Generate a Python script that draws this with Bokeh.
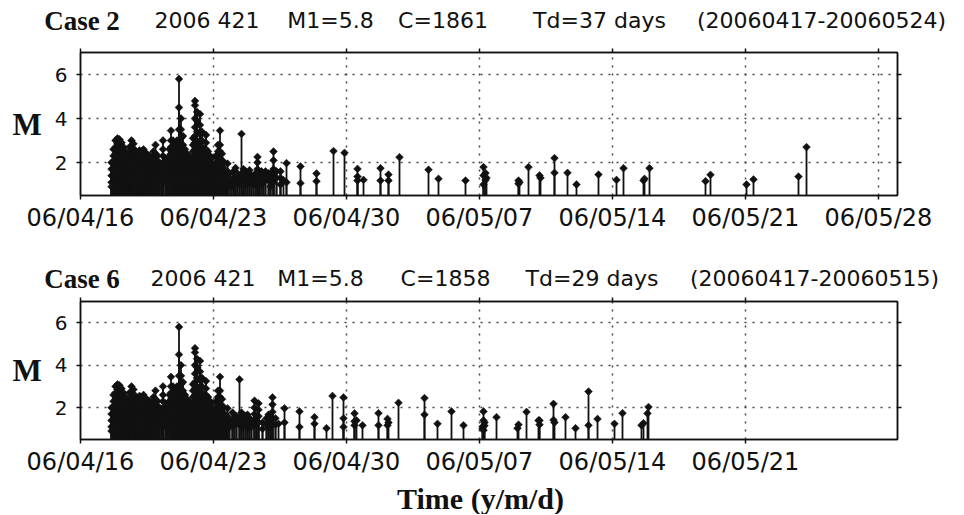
import math
import calendar
import datetime

from bokeh.plotting import figure
from bokeh.models import (Range1d, FixedTicker, DatetimeTickFormatter, DatetimeAxis,
                          LinearAxis, CustomJSTickFormatter, ColumnDataSource)
from bokeh.layouts import column
from bokeh.embed import file_html
from bokeh.resources import INLINE
from bokeh.core.properties import value

# ---------------- data ----------------
# event times: days after 2006-04-16 00:00 ; several events can share one time
SWARM_DAYS = [1.632, 1.737, 1.842, 1.947, 2.053, 2.158, 2.263, 2.368, 2.474, 2.579,
              2.684, 2.789, 2.895, 3.000, 3.105, 3.211, 3.316, 3.421, 3.526, 3.632,
              3.737, 3.842, 3.947, 4.053, 4.158, 4.263, 4.342, 4.474, 4.579, 4.684,
              4.763, 4.868, 4.974, 5.079, 5.184, 5.289, 5.395, 5.500, 5.605, 5.711,
              5.816, 5.921, 6.026, 6.132, 6.211, 6.289, 6.395, 6.500, 6.605, 6.711,
              6.816, 6.921, 7.026, 7.132, 7.237, 7.342, 7.447, 7.553]
SWARM_MAGS = [
    [2.0, 1.7, 1.4, 1.1, 0.9], [2.6, 2.3, 2.0, 1.7, 1.4, 1.1],
    [3.0, 2.7, 2.4, 2.1, 1.8, 1.5, 1.2, 0.9], [3.1, 2.85, 2.5, 2.2, 1.9, 1.6, 1.3, 1.0],
    [3.05, 2.75, 2.45, 2.15, 1.85, 1.55, 1.25], [2.9, 2.6, 2.3, 2.0, 1.7, 1.4, 1.1],
    [2.7, 2.4, 2.1, 1.8, 1.5, 1.2], [2.5, 2.2, 1.9, 1.6, 1.3, 1.0],
    [2.4, 2.1, 1.8, 1.5, 1.2], [2.7, 2.3, 2.0, 1.7, 1.4, 1.1],
    [3.0, 2.7, 2.4, 2.1, 1.8, 1.5, 1.2], [2.85, 2.55, 2.25, 1.95, 1.65, 1.35, 1.05],
    [2.55, 2.25, 1.95, 1.65, 1.35], [2.4, 2.1, 1.8, 1.5, 1.2, 0.9],
    [2.55, 2.25, 1.95, 1.65, 1.35, 1.05], [2.5, 2.2, 1.9, 1.6, 1.3],
    [2.6, 2.3, 2.0, 1.7, 1.4, 1.1], [2.45, 2.15, 1.85, 1.55, 1.25],
    [2.35, 2.05, 1.75, 1.45, 1.15], [2.3, 2.0, 1.7, 1.4, 1.1],
    [2.2, 1.9, 1.6, 1.3, 1.0], [2.5, 2.2, 1.9, 1.6, 1.3],
    [2.8, 2.4, 2.1, 1.8, 1.5, 1.2], [2.3, 2.0, 1.7, 1.4, 1.1],
    [2.0, 1.7, 1.4], [1.8, 1.5, 1.2],
    [3.0, 2.6, 2.3, 2.0, 1.7, 1.4, 1.1], [2.2, 1.9, 1.6, 1.3],
    [2.0, 1.7, 1.4], [2.6, 2.3, 2.0, 1.7],
    [3.45, 3.0, 2.7, 2.4, 2.1, 1.8, 1.5, 1.2, 0.9], [3.0, 2.7, 2.4, 2.1, 1.8, 1.5, 1.2],
    [2.9, 2.6, 2.3, 2.0, 1.7, 1.4, 1.1], [3.0, 2.75, 2.45, 2.15, 1.85, 1.55, 1.25],
    [5.8, 4.5, 3.5, 3.0, 2.7, 2.4, 2.1, 1.8, 1.5, 1.2],
    [4.0, 3.5, 3.1, 2.8, 2.5, 2.2, 1.9, 1.6, 1.3, 1.0],
    [3.2, 2.8, 2.5, 2.2, 1.9, 1.6, 1.3], [2.6, 2.3, 2.0, 1.7, 1.4, 1.1],
    [2.4, 2.1, 1.8, 1.5, 1.2], [2.3, 2.0, 1.7, 1.4, 1.1],
    [2.2, 1.9, 1.6, 1.3], [3.1, 2.8, 2.5, 2.2, 1.9, 1.6, 1.3, 1.0],
    [4.8, 4.6, 4.0, 3.6, 3.2, 2.9, 2.6, 2.3, 2.0, 1.7, 1.4, 1.1],
    [4.3, 3.9, 3.4, 3.0, 2.7, 2.4, 2.1, 1.8, 1.5, 1.2],
    [2.9, 2.6, 2.3, 2.0, 1.7, 1.4],
    [4.2, 3.7, 3.3, 2.9, 2.6, 2.3, 2.0, 1.7, 1.4, 1.1],
    [3.4, 3.0, 2.7, 2.4, 2.1, 1.8, 1.5, 1.2], [2.6, 2.3, 2.0, 1.7, 1.4, 1.1],
    [3.25, 2.9, 2.6, 2.3, 2.0, 1.7, 1.4], [2.5, 2.2, 1.9, 1.6, 1.3, 1.0],
    [2.3, 2.0, 1.7, 1.4, 1.1], [2.2, 1.9, 1.6, 1.3, 1.0],
    [1.9, 1.6, 1.3, 1.0], [2.3, 2.0, 1.7, 1.4, 1.1],
    [2.8, 2.5, 2.2, 1.9, 1.6, 1.3], [3.45, 2.8, 2.5, 2.2, 1.9, 1.6, 1.3, 1.0],
    [2.4, 2.1, 1.8, 1.5, 1.2], [2.0, 1.7, 1.4, 1.1],
]

CASE2_TAIL_DAYS = [7.658, 7.737, 7.842, 7.947, 8.053, 8.158, 8.263, 8.368, 8.474, 8.579,
                   8.684, 8.789, 8.895, 9.000, 9.105, 9.211, 9.316, 9.421, 9.526, 9.632,
                   9.737, 9.895, 10.000, 10.158, 10.316, 10.526, 10.684, 10.842, 11.579, 12.421,
                   13.316, 13.895, 14.579, 14.895, 15.789, 16.211, 16.789, 18.316, 18.842, 20.263,
                   21.211, 21.316, 21.368, 23.053, 23.105, 23.579, 24.158, 24.211, 24.947, 25.632,
                   26.105, 27.263, 28.211, 28.579, 29.632, 29.684, 29.947, 32.895, 33.158, 35.053,
                   35.421, 37.789, 38.211]
CASE2_TAIL_MAGS = [
    [1.6, 1.3, 1.0], [1.95, 1.6, 1.3, 1.0], [1.5, 1.2], [1.2, 0.9], [1.6, 1.3, 1.0],
    [1.75, 1.45, 1.15], [1.5, 1.2], [1.3, 1.0], [3.3, 1.5, 1.2], [1.7, 1.4, 1.1],
    [1.6, 1.3, 1.0], [1.5, 1.2], [1.65, 1.35, 1.05], [1.4, 1.1], [1.3, 1.0],
    [1.5, 1.2], [2.25, 2.0, 1.7, 1.4, 1.1], [1.5, 1.2], [1.6, 1.3, 1.0], [1.4, 1.1],
    [1.6, 1.3], [1.5, 1.2], [1.5, 1.2, 0.9], [2.5, 2.1, 1.7, 1.4, 1.1], [1.6, 1.3],
    [1.6, 1.3, 1.0], [1.2], [1.97, 1.1], [1.82, 1.06], [1.5, 1.15],
    [2.52], [2.44], [1.71, 1.36, 1.18], [1.21], [1.74, 1.18],
    [1.45, 1.18], [2.24], [1.67], [1.26], [1.18],
    [1.79, 1.41, 1.0], [1.52, 1.2], [1.3], [1.18, 1.03], [1.1],
    [1.79], [1.41], [1.3], [2.2, 1.53], [1.53],
    [1.0], [1.45], [1.21], [1.74], [1.18],
    [1.26], [1.74], [1.15], [1.44], [1.0],
    [1.23], [1.36], [2.7],
]

CASE6_TAIL_DAYS = [7.658, 7.737, 7.842, 8.000, 8.105, 8.211, 8.368, 8.474, 8.579, 8.684,
                   8.789, 8.895, 9.000, 9.158, 9.263, 9.368, 9.579, 9.789, 9.895, 10.000,
                   10.105, 10.263, 10.421, 10.737, 11.526, 12.316, 12.947, 13.263, 13.842, 14.421,
                   14.526, 14.842, 15.684, 16.158, 16.211, 16.737, 18.105, 18.789, 19.526, 20.158,
                   21.158, 21.211, 21.263, 21.895, 23.000, 23.053, 23.474, 24.105, 24.158, 24.895,
                   24.947, 25.526, 26.053, 26.737, 27.211, 28.105, 28.526, 29.526, 29.632, 29.842,
                   29.895]
CASE6_TAIL_MAGS = [
    [1.6, 1.3, 1.0], [1.97, 1.6, 1.3, 1.0], [1.4, 1.1], [1.77, 1.45, 1.15], [1.5, 1.2],
    [1.6, 1.3], [3.33, 1.5, 1.2], [1.77, 1.4, 1.1], [1.5, 1.2], [1.6, 1.3],
    [1.67, 1.35, 1.05], [1.5, 1.2], [1.4, 1.1], [2.33, 2.0, 1.7, 1.4], [1.5, 1.2],
    [2.2, 1.9, 1.6, 1.3], [1.3, 1.0], [1.5, 1.2], [1.67, 1.35, 1.05], [1.5, 1.2],
    [2.48, 2.15, 1.8, 1.5, 1.2], [1.5, 1.2], [1.24], [1.97, 1.3], [1.82, 1.09],
    [1.55, 1.24], [1.03], [2.55], [2.48, 1.5, 1.09], [1.73, 1.36, 1.17],
    [1.4], [1.17], [1.74, 1.17], [1.47, 1.17], [1.3],
    [2.23], [2.45, 1.67], [1.24], [1.82], [1.17],
    [1.1, 1.0], [1.82, 1.4, 0.94], [1.3, 1.15], [1.55], [1.03],
    [1.2], [1.8], [1.4], [1.4, 1.2], [2.18, 1.42],
    [1.3], [1.55], [1.03], [2.76, 1.17], [1.47],
    [1.24], [1.74], [1.17], [1.27], [1.73],
    [2.03],
]

TICKS_CASE2 = ["2006-04-16", "2006-04-23", "2006-04-30", "2006-05-07",
               "2006-05-14", "2006-05-21", "2006-05-28"]
TICKS_CASE6 = ["2006-04-16", "2006-04-23", "2006-04-30", "2006-05-07",
               "2006-05-14", "2006-05-21"]
X_START, X_END = "2006-04-16", "2006-05-29"
Y_TICKS = [2, 4, 6]
Y_START, Y_END = 0.5, 7.0

TITLE_CASE2 = ["Case 2", "2006 421", "M1=5.8", "C=1861", "Td=37 days", "(20060417-20060524)"]
TITLE_CASE6 = ["Case 6", "2006 421", "M1=5.8", "C=1858", "Td=29 days", "(20060417-20060515)"]
Y_LABEL = "M"
X_LABEL = "Time (y/m/d)"

# ---------------- helpers ----------------
W = 964
BASE = datetime.datetime(2006, 4, 16)
INK = "#111111"
SANS = "DejaVu Sans"
SERIF = "Liberation Serif"


def ms(date_str):
    d = datetime.datetime.strptime(date_str, "%Y-%m-%d")
    return calendar.timegm(d.timetuple()) * 1000.0


def day_ms(day):
    return calendar.timegm(BASE.timetuple()) * 1000.0 + day * 86400000.0


def events(day_lists, mag_lists):
    xs, ms_ = [], []
    for days, mags in zip(day_lists, mag_lists):
        for d, group in zip(days, mags):
            for m in group:
                xs.append(day_ms(d))
                ms_.append(m)
    return xs, ms_


def text_strip(height):
    """A bare strip whose frame is the whole canvas, in pixel units (y up)."""
    t = figure(width=W, height=height, x_range=Range1d(0, W), y_range=Range1d(0, height),
               output_backend="svg", toolbar_location=None, tools="",
               x_axis_location=None, y_axis_location=None, min_border=0)
    t.min_border_left = t.min_border_right = t.min_border_top = t.min_border_bottom = 0
    t.frame_align = False
    t.grid.visible = False
    t.outline_line_color = None
    t.background_fill_color = "white"
    t.border_fill_color = "white"
    return t


def title_strip(parts, centers, baseline_y, height):
    t = text_strip(height)
    t.text(x=[centers[0]], y=[baseline_y], text=[parts[0]],
           text_font=value(SERIF), text_font_style="bold", text_font_size=value("27px"),
           text_align="center", text_baseline="alphabetic", text_color=INK)
    t.text(x=centers[1:], y=[baseline_y] * (len(parts) - 1), text=parts[1:],
           text_font=value(SANS), text_font_size=value("22px"),
           text_align="center", text_baseline="alphabetic", text_color=INK)
    return t


def chart(xs, mags, ticks, height, top, frame_h):
    p = figure(width=W, height=height, x_axis_type="datetime",
               x_range=Range1d(ms(X_START), ms(X_END)), y_range=Range1d(Y_START, Y_END),
               output_backend="svg", toolbar_location=None, tools="")
    p.min_border_left = 80
    p.min_border_right = W - 80 - 817
    p.min_border_top = top
    p.min_border_bottom = height - top - frame_h
    p.frame_align = False
    p.background_fill_color = "white"
    p.border_fill_color = "white"
    p.outline_line_color = INK
    p.outline_line_width = 1.5

    xt = FixedTicker(ticks=[ms(t) for t in ticks])
    yt = FixedTicker(ticks=Y_TICKS)
    fmt = DatetimeTickFormatter(days="%y/%m/%d", months="%y/%m/%d", hours="%y/%m/%d",
                                years="%y/%m/%d")
    p.xaxis.ticker = xt
    p.xaxis.formatter = fmt
    p.yaxis.ticker = yt

    blank = CustomJSTickFormatter(code="return ''")
    p.add_layout(DatetimeAxis(ticker=xt, formatter=blank), "above")
    p.add_layout(LinearAxis(ticker=yt, formatter=blank), "right")

    for ax in p.axis:
        ax.axis_line_color = INK
        ax.axis_line_width = 1.5
        ax.major_tick_line_color = INK
        ax.major_tick_line_width = 1.5
        ax.major_tick_out = 4
        ax.major_tick_in = 0
        ax.minor_tick_out = 0
        ax.minor_tick_in = 0
        ax.major_label_text_font = SANS
        ax.major_label_text_color = INK
    for ax in (p.above[0], p.right[0]):
        ax.major_label_text_font_size = "0px"
        ax.major_label_standoff = 0
    p.below[0].major_label_text_font_size = "24px"
    p.below[0].major_label_standoff = 4
    yl = p.left[0]
    yl.major_label_text_font_size = "20px"
    yl.major_label_standoff = 9
    yl.axis_label = Y_LABEL
    yl.axis_label_orientation = "horizontal"
    yl.axis_label_text_font = SERIF
    yl.axis_label_text_font_style = "bold"
    yl.axis_label_text_font_size = "31px"
    yl.axis_label_text_color = INK
    yl.axis_label_standoff = 10

    p.xgrid.ticker = xt
    p.ygrid.ticker = yt
    for g in (p.xgrid, p.ygrid):
        g.grid_line_color = "#444444"
        g.grid_line_dash = "2 6"
        g.grid_line_width = 1.5

    src = ColumnDataSource(dict(x=xs, m=mags, b=[0.0] * len(xs)))
    p.segment(x0="x", y0="b", x1="x", y1="m", source=src, line_color=INK, line_width=1.8)
    p.scatter(x="x", y="m", source=src, marker="square", angle=math.pi / 4, size=5.5,
              fill_color=INK, line_color=INK, line_width=0.5)
    return p


x2, m2 = events([SWARM_DAYS, CASE2_TAIL_DAYS], [SWARM_MAGS, CASE2_TAIL_MAGS])
x6, m6 = events([SWARM_DAYS, CASE6_TAIL_DAYS], [SWARM_MAGS, CASE6_TAIL_MAGS])

t1 = title_strip(TITLE_CASE2, [81.5, 206.5, 330, 442.5, 599, 821], 20, 40)
c1 = chart(x2, m2, TICKS_CASE2, 218, 12, 143)
t2 = title_strip(TITLE_CASE6, [81.5, 202.5, 320, 445, 591.5, 814], 14, 34)
c2 = chart(x6, m6, TICKS_CASE6, 186, 9, 141)
xl = text_strip(36)
xl.text(x=[480], y=[16], text=[X_LABEL], text_font=value(SERIF), text_font_style="bold",
        text_font_size=value("30px"), text_align="center", text_baseline="alphabetic",
        text_color=INK)

layout = column(t1, c1, t2, c2, xl, spacing=0)
open("out.html", "w").write(file_html(layout, INLINE))
